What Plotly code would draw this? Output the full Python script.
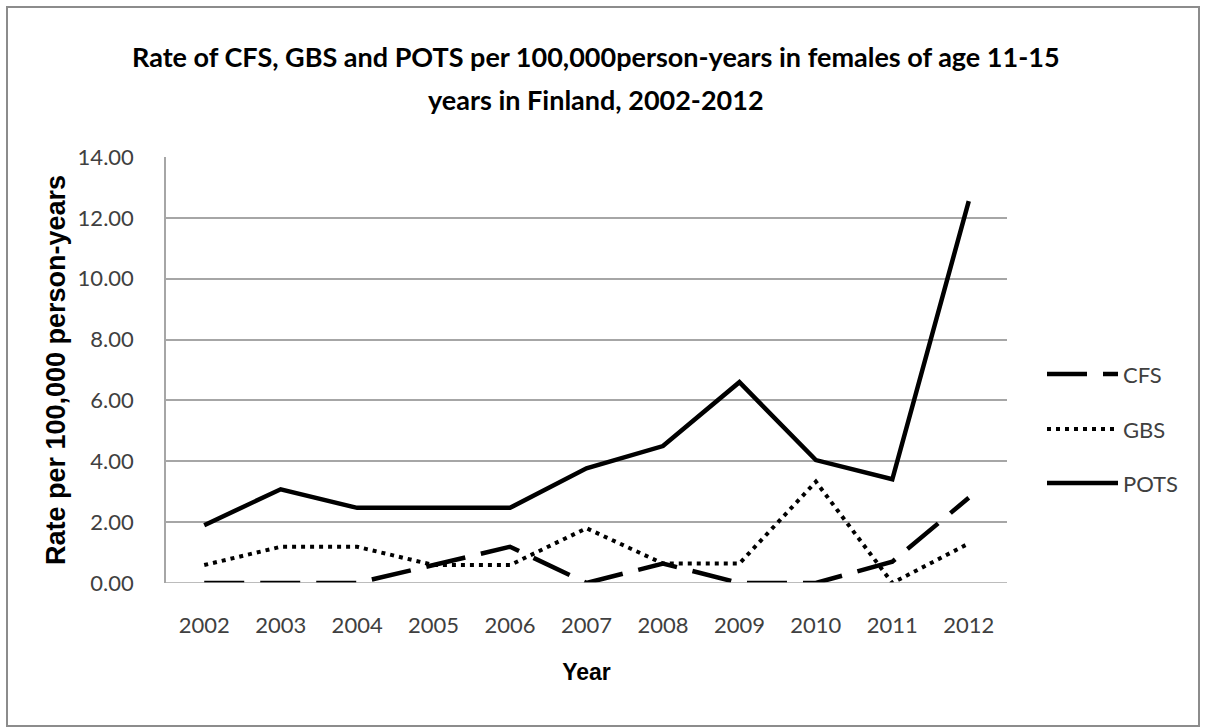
import plotly.graph_objects as go

# Yearly rates per 100,000 person-years, females aged 11-15, Finland
years = ["2002", "2003", "2004", "2005", "2006", "2007",
         "2008", "2009", "2010", "2011", "2012"]
cfs = [0.0, 0.0, 0.0, 0.59, 1.19, 0.0, 0.64, 0.0, 0.0, 0.70, 2.80]
gbs = [0.59, 1.19, 1.19, 0.59, 0.59, 1.80, 0.64, 0.64, 3.33, 0.0, 1.30]
pots = [1.90, 3.08, 2.47, 2.47, 2.47, 3.77, 4.50, 6.60, 4.04, 3.41, 12.55]

series_names = ["CFS", "GBS", "POTS"]
series_values = [cfs, gbs, pots]
series_dash = ["40px,16px", "4px,5px", "solid"]
series_width = [4.5, 4, 4.5]

W, H = 1205, 728
L, R, T, B = 166, 198, 157, 145
PW, PH = W - L - R, H - T - B


def px_x(px):
    return (px - L) / PW


def px_y(py):
    return (H - B - py) / PH


fig = go.Figure()
for name, vals, dash, w in zip(series_names, series_values, series_dash, series_width):
    fig.add_trace(go.Scatter(
        x=years, y=vals, name=name, mode="lines",
        line=dict(color="black", width=w, dash=dash),
        showlegend=False,
    ))

tick_font = dict(family="Lato, Open Sans, sans-serif", size=22, color="#404040")

fig.update_layout(
    width=W, height=H,
    margin=dict(l=L, r=R, t=T, b=B),
    paper_bgcolor="white", plot_bgcolor="white",
    xaxis=dict(
        type="category", range=[-0.5, len(years) - 0.5],
        showgrid=False, zeroline=False,
        showline=False, ticks="", tickfont=tick_font,
        ticklabelstandoff=27,
        title=dict(text="<b>Year</b>", standoff=26,
                   font=dict(family="Liberation Sans, Arial, sans-serif", size=23, color="black")),
    ),
    yaxis=dict(
        range=[0, 14], dtick=2, tickformat=".2f",
        showgrid=True, gridcolor="#a6a6a6", gridwidth=1.5,
        zeroline=False, showline=True, linecolor="#a6a6a6", linewidth=1.5,
        ticks="", tickfont=tick_font, ticklabelstandoff=26,
        title=dict(text="<b>Rate per 100,000 person-years</b>", standoff=4,
                   font=dict(family="Liberation Sans, Arial, sans-serif", size=27, color="black")),
    ),
)

# Zero baseline drawn like the gridlines
fig.add_shape(type="line", xref="paper", yref="y", x0=0, x1=1, y0=0, y1=0,
              line=dict(color="#a6a6a6", width=1.5))

# Title, two centred lines
title_font = dict(family="Lato, Open Sans, sans-serif", size=27, color="black")
for text, py in [("<b>Rate of CFS, GBS and POTS per 100,000person-years in females of age 11-15</b>", 56),
                 ("<b>years in Finland, 2002-2012</b>", 100)]:
    fig.add_annotation(text=text, xref="paper", yref="paper", x=px_x(596), y=px_y(py),
                       showarrow=False, font=title_font, xanchor="center", yanchor="middle")

# Legend keys on the right
for name, dash, w, py in zip(series_names, series_dash, series_width, [374, 429, 483]):
    fig.add_shape(type="line", xref="paper", yref="paper",
                  x0=px_x(1047), x1=px_x(1118), y0=px_y(py), y1=px_y(py),
                  line=dict(color="black", width=w, dash=dash))
    fig.add_annotation(text=name, xref="paper", yref="paper", x=px_x(1121), y=px_y(py),
                       showarrow=False, xanchor="left", yanchor="middle",
                       font=dict(family="Lato, Open Sans, sans-serif", size=22, color="#404040"))

# Outer frame
fig.add_shape(type="rect", xref="paper", yref="paper",
              x0=px_x(7), x1=px_x(1199), y0=px_y(726), y1=px_y(7),
              line=dict(color="#8c8c8c", width=2), fillcolor="rgba(0,0,0,0)", layer="below")

fig.write_html("out.html")
